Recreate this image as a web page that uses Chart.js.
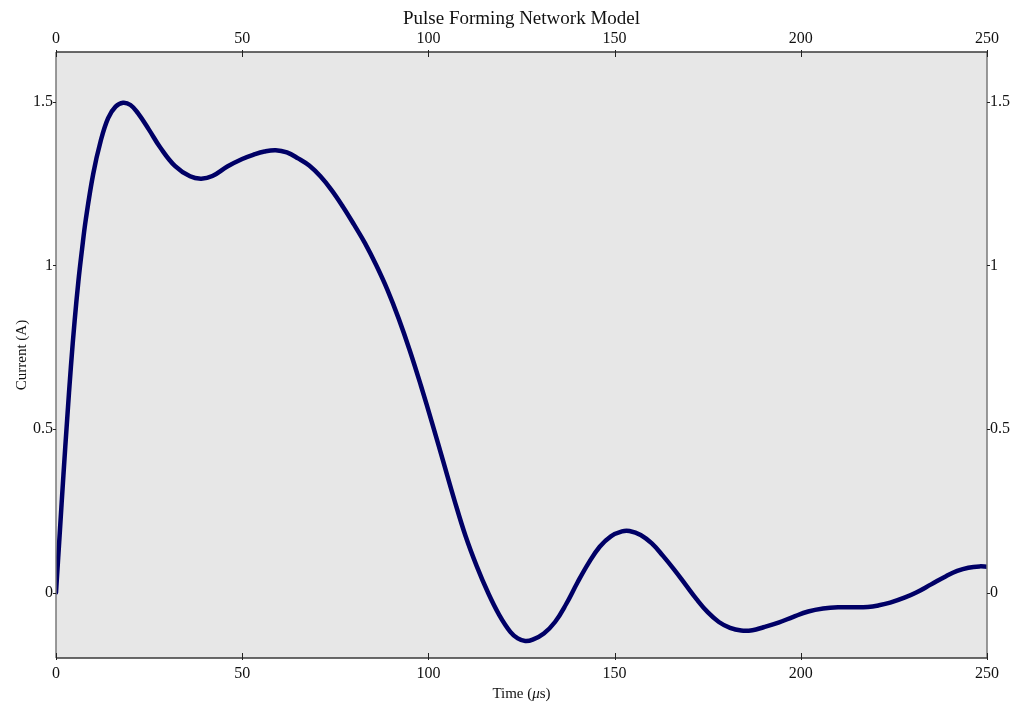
<!DOCTYPE html>
<html>
<head>
<meta charset="utf-8">
<title>Pulse Forming Network Model</title>
<script src="https://cdn.jsdelivr.net/npm/chart.js@4/dist/chart.umd.min.js"></script>
<style>
  html, body { margin: 0; padding: 0; background: #fff; }
  #wrap { width: 1011px; height: 704px; }
</style>
</head>
<body>
<div id="wrap"><canvas id="grafico-pfn" width="1011" height="704"></canvas></div>
<script>
// corrente de saída da rede formadora de pulso (tempo em µs, corrente em A)
const TIME_US = [
    0, 1, 2, 3, 4, 5, 6, 7, 8, 10, 12, 14, 16, 18, 20, 22, 25, 28, 32, 36,
    39, 42, 46, 50, 53, 56, 59, 62, 65, 68, 71, 74, 77, 80, 83, 86, 89, 92, 95, 98,
    101, 104, 107, 110, 113, 116, 119, 122, 124, 126, 128, 131, 134, 137, 140, 143, 146, 149, 152, 154,
    157, 160, 163, 166, 169, 172, 175, 178, 181, 184, 187, 190, 194, 198, 202, 206, 210, 214, 218, 221,
    224, 228, 231, 235, 239, 242, 245, 248, 250
];
const CURRENT_A = [
    0, 0.18, 0.36, 0.53, 0.69, 0.83, 0.95, 1.05, 1.14, 1.28, 1.38, 1.45, 1.485, 1.497, 1.49, 1.465, 1.414, 1.36, 1.303, 1.272,
    1.265, 1.273, 1.302, 1.325, 1.338, 1.348, 1.352, 1.345, 1.327, 1.305, 1.272, 1.23, 1.18, 1.125, 1.067, 1.0, 0.925, 0.838, 0.74, 0.632,
    0.518, 0.4, 0.282, 0.172, 0.08, 0.0, -0.068, -0.12, -0.14, -0.148, -0.144, -0.125, -0.09, -0.035, 0.03, 0.09, 0.14, 0.172, 0.187, 0.188,
    0.176, 0.15, 0.112, 0.07, 0.025, -0.02, -0.06, -0.09, -0.108, -0.116, -0.115, -0.106, -0.092, -0.074, -0.058, -0.049, -0.045, -0.045, -0.044, -0.039,
    -0.031, -0.015, 0.0, 0.025, 0.05, 0.066, 0.076, 0.08, 0.079
];
const X_TICKS = [0, 50, 100, 150, 200, 250];
const Y_TICKS = [0, 0.5, 1, 1.5];

const FONTE = '"Liberation Serif", "DejaVu Serif", serif';
const COR_LINHA = '#000066';
const COR_FUNDO = '#e7e7e7';

// eixos com ticks fixos, sem os ticks automáticos do Chart.js
const fixarTicks = lista => scale => { scale.ticks = lista.map(v => ({ value: v })); };

// fundo, bordas, marcas dos ticks e textos (títulos)
const molduraPlugin = {
    id: 'moldura',
    beforeDatasetsDraw(chart) {
        const { ctx, chartArea: a } = chart;
        ctx.save();
        ctx.fillStyle = COR_FUNDO;
        ctx.fillRect(a.left, a.top, a.right - a.left, a.bottom - a.top);
        ctx.restore();
    },
    afterDraw(chart) {
        const { ctx, chartArea: a, scales } = chart;
        ctx.save();

        // bordas laterais em cinza, topo e base mais escuros
        ctx.lineWidth = 1.5;
        ctx.strokeStyle = '#7a7a7a';
        ctx.beginPath();
        ctx.moveTo(a.left, a.top); ctx.lineTo(a.left, a.bottom);
        ctx.moveTo(a.right, a.top); ctx.lineTo(a.right, a.bottom);
        ctx.stroke();
        ctx.strokeStyle = '#3a3a3a';
        ctx.beginPath();
        ctx.moveTo(a.left, a.top); ctx.lineTo(a.right, a.top);
        ctx.moveTo(a.left, a.bottom); ctx.lineTo(a.right, a.bottom);
        ctx.stroke();

        // ticks do eixo x para dentro, do eixo y para fora
        ctx.lineWidth = 1;
        ctx.strokeStyle = '#222';
        ctx.beginPath();
        X_TICKS.forEach(v => {
            const px = Math.round(scales.x.getPixelForValue(v)) + 0.5;
            ctx.moveTo(px, a.bottom + 2); ctx.lineTo(px, a.bottom - 5);
            ctx.moveTo(px, a.top - 2); ctx.lineTo(px, a.top + 5);
        });
        Y_TICKS.forEach(v => {
            const py = Math.round(scales.y.getPixelForValue(v)) + 0.5;
            ctx.moveTo(a.left - 3, py); ctx.lineTo(a.left, py);
            ctx.moveTo(a.right, py); ctx.lineTo(a.right + 3, py);
        });
        ctx.stroke();

        ctx.fillStyle = '#111';
        const meio = (a.left + a.right) / 2;

        // título
        ctx.font = `19px ${FONTE}`;
        ctx.textAlign = 'center';
        ctx.textBaseline = 'alphabetic';
        ctx.fillText('Pulse Forming Network Model', meio, 24);

        // título do eixo x com o µ em itálico
        const p1 = 'Time (', p3 = 's)';
        ctx.font = `15px ${FONTE}`;
        const w1 = ctx.measureText(p1).width, w3 = ctx.measureText(p3).width;
        ctx.font = `italic 15px ${FONTE}`;
        const w2 = ctx.measureText('\u03bc').width;
        const x0 = meio - (w1 + w2 + w3) / 2;
        const yx = 698;
        ctx.textAlign = 'left';
        ctx.font = `15px ${FONTE}`;
        ctx.fillText(p1, x0, yx);
        ctx.font = `italic 15px ${FONTE}`;
        ctx.fillText('\u03bc', x0 + w1, yx);
        ctx.font = `15px ${FONTE}`;
        ctx.fillText(p3, x0 + w1 + w2, yx);

        // título do eixo y
        ctx.translate(26, (a.top + a.bottom) / 2);
        ctx.rotate(-Math.PI / 2);
        ctx.textAlign = 'center';
        ctx.fillText('Current (A)', 0, 0);

        ctx.restore();
    }
};

const tickFonte = { family: FONTE, size: 16 };
const eixoComum = {
    type: 'linear',
    grid: { display: false, drawTicks: false },
    border: { display: false },
};

new Chart(document.getElementById('grafico-pfn'), {
    type: 'line',
    data: {
        datasets: [{
            label: 'Current',
            data: TIME_US.map((t, i) => ({ x: t, y: CURRENT_A[i] })),
            borderColor: COR_LINHA,
            borderWidth: 4.5,
            pointRadius: 0,
            fill: false,
            tension: 0.4,
            borderCapStyle: 'round',
            borderJoinStyle: 'round',
        }]
    },
    options: {
        responsive: false,
        animation: false,
        events: [],
        layout: { padding: 0 },
        plugins: {
            legend: { display: false },
            title: { display: false },
            tooltip: { enabled: false },
        },
        scales: {
            x: {
                ...eixoComum,
                position: 'bottom',
                min: 0, max: 250,
                afterBuildTicks: fixarTicks(X_TICKS),
                afterFit: s => { s.height = 46; },
                ticks: { font: tickFonte, color: '#111', padding: 6, maxRotation: 0, callback: v => String(v) },
            },
            x2: {
                ...eixoComum,
                position: 'top',
                min: 0, max: 250,
                afterBuildTicks: fixarTicks(X_TICKS),
                afterFit: s => { s.height = 52; },
                ticks: { font: tickFonte, color: '#111', padding: 4, maxRotation: 0, callback: v => String(v) },
            },
            y: {
                ...eixoComum,
                position: 'left',
                min: -0.2, max: 1.652,
                afterBuildTicks: fixarTicks(Y_TICKS),
                afterFit: s => { s.width = 56; },
                ticks: { font: tickFonte, color: '#111', padding: 3, callback: v => String(v) },
            },
            y2: {
                ...eixoComum,
                position: 'right',
                min: -0.2, max: 1.652,
                afterBuildTicks: fixarTicks(Y_TICKS),
                afterFit: s => { s.width = 24; },
                ticks: { font: tickFonte, color: '#111', padding: 3, callback: v => String(v) },
            },
        }
    },
    plugins: [molduraPlugin]
});
</script>
</body>
</html>
